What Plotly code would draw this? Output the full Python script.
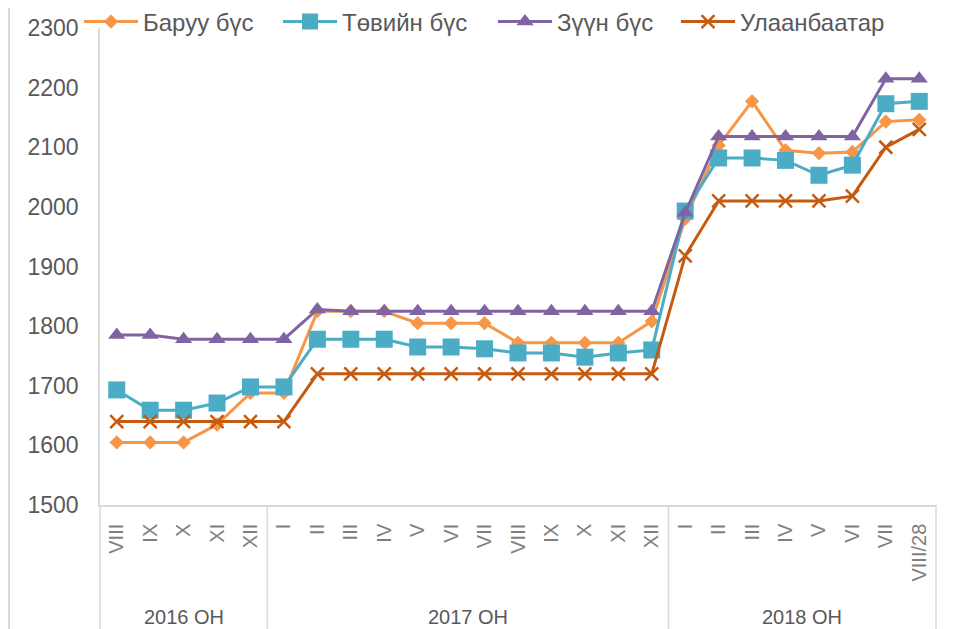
import plotly.graph_objects as go

years = ["2016 ОН", "2017 ОН", "2018 ОН"]
months_2016 = ["VIII", "IX", "X", "XI", "XII"]
months_2017 = ["I", "II", "III", "IV", "V", "VI", "VII", "VIII", "IX", "X", "XI", "XII"]
months_2018 = ["I", "II", "III", "IV", "V", "VI", "VII", "VIII/28"]
month_labels = months_2016 + months_2017 + months_2018

baruun = [1605, 1605, 1605, 1635, 1688,
          1688, 1825, 1825, 1825, 1805, 1805, 1805, 1772, 1772, 1772, 1772, 1808,
          1980, 2103, 2177, 2095, 2090, 2092, 2143, 2146]
tuviin = [1693, 1659, 1659, 1671, 1698,
          1698, 1778, 1778, 1778, 1765, 1765, 1762, 1755, 1755, 1748, 1755, 1760,
          1993, 2082, 2082, 2078, 2053, 2070, 2173, 2177]
zuun = [1785, 1785, 1778, 1778, 1778,
        1778, 1828, 1825, 1825, 1825, 1825, 1825, 1825, 1825, 1825, 1825, 1825,
        1990, 2118, 2118, 2118, 2118, 2118, 2215, 2215]
ub = [1640, 1640, 1640, 1640, 1640,
      1640, 1720, 1720, 1720, 1720, 1720, 1720, 1720, 1720, 1720, 1720, 1720,
      1918, 2010, 2010, 2010, 2010, 2018, 2100, 2130]

series = [
    ("Баруу бүс", baruun, "#F79646", "diamond", 11),
    ("Төвийн бүс", tuviin, "#4BACC6", "square", 17),
    ("Зүүн бүс", zuun, "#8064A2", "triangle-up", 15),
    ("Улаанбаатар", ub, "#C55A11", "x-thin", 13),
]

x = list(range(len(month_labels)))
FONT = "Liberation Sans, Arial, sans-serif"

# page body has an 8px margin, so the figure is sized/offset to compensate
W, H = 947, 621
ML, MR, MT, MB = 92, 19, 20, 124
PW, PH = W - ML - MR, H - MT - MB

legend_ids = ["legend", "legend2", "legend3", "legend4"]
legend_left = [71, 270, 485, 668]

fig = go.Figure()
for (name, vals, color, sym, size), lid in zip(series, legend_ids):
    marker = dict(symbol=sym, size=size, color=color)
    if sym == "x-thin":
        marker["line"] = dict(color=color, width=2.5)
    fig.add_trace(go.Scatter(x=x, y=vals, name=name, mode="lines+markers",
                             line=dict(color=color, width=3), marker=marker,
                             legend=lid))

n = len(month_labels)
group_sizes = [len(months_2016), len(months_2017), len(months_2018)]
bottom = -MB / PH
grid = "#D9D9D9"
shapes = []
edges = [0]
for g in group_sizes:
    edges.append(edges[-1] + g)
for e in edges:
    shapes.append(dict(type="line", xref="paper", yref="paper",
                       x0=e / n, x1=e / n, y0=bottom, y1=0,
                       line=dict(color=grid, width=1.5)))
shapes.append(dict(type="line", xref="paper", yref="paper",
                   x0=-(ML - 1) / PW, x1=-(ML - 1) / PW, y0=bottom, y1=1 + MT / PH,
                   line=dict(color=grid, width=2)))

annotations = []
start = 0
for yr, g in zip(years, group_sizes):
    annotations.append(dict(x=start + (g - 1) / 2, y=-112 / PH, xref="x", yref="paper",
                            text=yr, showarrow=False, yanchor="middle",
                            font=dict(family=FONT, size=20, color="#595959")))
    start += g

legends = {}
for lid, left in zip(legend_ids, legend_left):
    legends[lid] = dict(orientation="h", xref="container", yref="container",
                        x=left / W, y=1 - 14 / H, xanchor="left", yanchor="middle",
                        font=dict(family=FONT, size=24, color="#595959"),
                        itemwidth=54, bgcolor="rgba(255,255,255,0)")

fig.update_layout(
    width=W, height=H,
    margin=dict(l=ML, r=MR, t=MT, b=MB, autoexpand=False),
    paper_bgcolor="white", plot_bgcolor="white",
    font=dict(family=FONT, color="#595959"),
    showlegend=True,
    xaxis=dict(range=[-0.5, n - 0.5], tickmode="array", tickvals=x, ticktext=month_labels,
               tickangle=-90, showgrid=False, zeroline=False, showline=True,
               linecolor=grid, linewidth=1.5, ticks="", ticklabelstandoff=9,
               tickfont=dict(family=FONT, size=20, color="#7F7F7F")),
    yaxis=dict(range=[1500, 2300], dtick=100, showgrid=False, zeroline=False,
               showline=True, linecolor=grid, linewidth=1.5, ticks="",
               ticklabelstandoff=15,
               tickfont=dict(family=FONT, size=23, color="#595959")),
    shapes=shapes, annotations=annotations,
    **legends,
)

fig.write_html("out.html")
